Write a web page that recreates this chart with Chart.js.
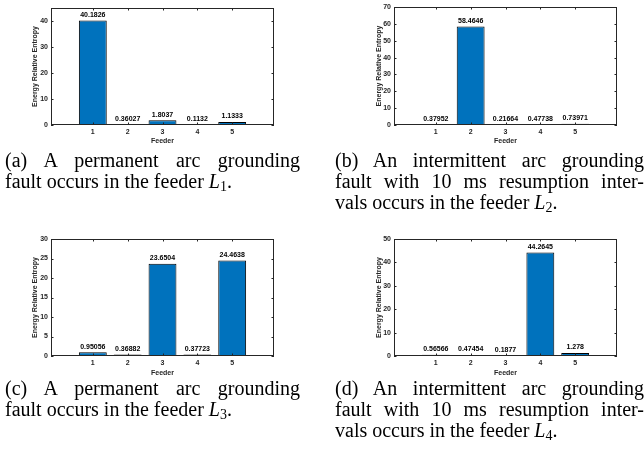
<!DOCTYPE html>
<html>
<head>
<meta charset="utf-8">
<script src="https://cdn.jsdelivr.net/npm/chart.js@4.4.0/dist/chart.umd.min.js"></script>
<style>
  body { margin: 0; background: #fff; width: 644px; height: 451px; overflow: hidden; position: relative; }
  .panel { position: absolute; }
  .cap { position: absolute; font-family: "Liberation Serif", "Times New Roman", serif; font-size: 20px; line-height: 21px; color: #000; }
  .cap div { text-align: justify; text-align-last: justify; white-space: nowrap; }
  .cap div.last { text-align-last: left; }
  .cap sub { font-size: 70%; vertical-align: -3px; line-height: 0; }
</style>
</head>
<body>
<div class="panel" id="pa" style="left:0;top:0;width:322px;height:150px"><canvas id="chartA"></canvas></div>
<div class="panel" id="pb" style="left:322px;top:0;width:322px;height:150px"><canvas id="chartB"></canvas></div>
<div class="panel" id="pc" style="left:0;top:225px;width:322px;height:155px"><canvas id="chartC"></canvas></div>
<div class="panel" id="pd" style="left:322px;top:225px;width:322px;height:155px"><canvas id="chartD"></canvas></div>

<div class="cap" style="left:5px;top:150px;width:295px">
  <div>(a) A permanent arc grounding</div>
  <div class="last">fault occurs in the feeder <i>L</i><sub>1</sub>.</div>
</div>
<div class="cap" style="left:335px;top:150px;width:309px">
  <div>(b) An intermittent arc grounding</div>
  <div>fault with 10 ms resumption inter-</div>
  <div class="last">vals occurs in the feeder <i>L</i><sub>2</sub>.</div>
</div>
<div class="cap" style="left:5px;top:378px;width:295px">
  <div>(c) A permanent arc grounding</div>
  <div class="last">fault occurs in the feeder <i>L</i><sub>3</sub>.</div>
</div>
<div class="cap" style="left:335px;top:378px;width:309px">
  <div>(d) An intermittent arc grounding</div>
  <div>fault with 10 ms resumption inter-</div>
  <div class="last">vals occurs in the feeder <i>L</i><sub>4</sub>.</div>
</div>

<script>
const feeders = [1, 2, 3, 4, 5];
const entropyA = [40.1826, 0.36027, 1.8037, 0.1132, 1.1333];
const entropyB = [0.37952, 58.4646, 0.21664, 0.47738, 0.73971];
const entropyC = [0.95056, 0.36882, 23.6504, 0.37723, 24.4638];
const entropyD = [0.56566, 0.47454, 0.1877, 44.2645, 1.278];
const yTicksA = [0, 10, 20, 30, 40];
const yTicksB = [0, 10, 20, 30, 40, 50, 60, 70];
const yTicksC = [0, 5, 10, 15, 20, 25, 30];
const yTicksD = [0, 10, 20, 30, 40, 50];
const yMaxA = 45, yMaxB = 70, yMaxC = 30, yMaxD = 50;

const axisColor = '#262626';
const chartFont = '"Liberation Sans", Arial, sans-serif';

// box, inward ticks and value labels like the matlab figure
const matlabBox = {
    id: 'matlabBox',
    afterDatasetsDraw(chart) {
        const { ctx, chartArea: a, scales: { x, y } } = chart;
        const t = 2.5;
        ctx.save();
        ctx.strokeStyle = axisColor;
        ctx.lineWidth = 1;
        ctx.strokeRect(Math.round(a.left) + 0.5, Math.round(a.top) + 0.5,
            Math.round(a.width) - 1, Math.round(a.height) - 1);
        ctx.beginPath();
        y.ticks.forEach(tk => {
            const py = Math.round(y.getPixelForValue(tk.value)) + 0.5;
            ctx.moveTo(a.left, py); ctx.lineTo(a.left + t, py);
            ctx.moveTo(a.right, py); ctx.lineTo(a.right - t, py);
        });
        x.ticks.forEach(tk => {
            const px = Math.round(x.getPixelForValue(tk.value)) + 0.5;
            ctx.moveTo(px, a.bottom); ctx.lineTo(px, a.bottom - t);
            ctx.moveTo(px, a.top); ctx.lineTo(px, a.top + t);
        });
        ctx.stroke();

        const meta = chart.getDatasetMeta(0);
        const values = chart.data.datasets[0].data;
        ctx.font = 'bold 7px ' + chartFont;
        ctx.fillStyle = '#000';
        ctx.textAlign = 'center';
        ctx.textBaseline = 'bottom';
        meta.data.forEach((bar, i) => {
            ctx.fillText(String(values[i].y), bar.x, bar.y - 2);
        });
        ctx.restore();
    }
};

function makeChart(id, values, yTicks, yMax, g) {
    const ctx = document.getElementById(id).getContext('2d');
    return new Chart(ctx, {
        type: 'bar',
        data: {
            datasets: [{
                data: feeders.map((f, i) => ({ x: f, y: values[i] })),
                backgroundColor: '#0072BD',
                borderColor: '#000',
                borderWidth: 1,
                categoryPercentage: 1,
                barPercentage: 0.8
            }]
        },
        options: {
            responsive: true,
            maintainAspectRatio: false,
            animation: false,
            layout: { padding: { left: g.padL, right: g.padR, top: g.padT, bottom: g.padB } },
            plugins: { legend: { display: false }, tooltip: { enabled: false } },
            scales: {
                x: {
                    type: 'linear',
                    offset: false,
                    min: -0.2,
                    max: 6.2,
                    grid: { display: false, drawTicks: false },
                    border: { display: false },
                    afterBuildTicks: scale => { scale.ticks = feeders.map(v => ({ value: v })); },
                    afterFit: scale => { scale.height = g.xH; scale.paddingLeft = 0; scale.paddingRight = 0; },
                    ticks: {
                        padding: 3,
                        autoSkip: false,
                        maxRotation: 0,
                        color: axisColor,
                        font: { family: chartFont, size: 7, weight: 'bold' }
                    },
                    title: {
                        display: true,
                        text: 'Feeder',
                        padding: 0,
                        color: axisColor,
                        font: { family: chartFont, size: 7, weight: 'bold' }
                    }
                },
                y: {
                    min: 0,
                    max: yMax,
                    grid: { display: false, drawTicks: false },
                    border: { display: false },
                    afterBuildTicks: scale => { scale.ticks = yTicks.map(v => ({ value: v })); },
                    afterFit: scale => { scale.width = g.yW; scale.paddingTop = 0; scale.paddingBottom = 0; },
                    ticks: {
                        padding: 3,
                        autoSkip: false,
                        color: axisColor,
                        font: { family: chartFont, size: 7, weight: 'bold' }
                    },
                    title: {
                        display: true,
                        text: 'Energy Relative Entropy',
                        padding: 0,
                        color: axisColor,
                        font: { family: chartFont, size: 7, weight: 'bold' }
                    }
                }
            }
        },
        plugins: [matlabBox]
    });
}

const leftGeo = { padL: 31, yW: 20, padR: 48 };
const rightGeo = { padL: 53, yW: 19, padR: 27 };

makeChart('chartA', entropyA, yTicksA, yMaxA, { ...leftGeo, padT: 8, padB: 5, xH: 20 });
makeChart('chartB', entropyB, yTicksB, yMaxB, { ...rightGeo, padT: 7, padB: 5, xH: 20 });
makeChart('chartC', entropyC, yTicksC, yMaxC, { ...leftGeo, padT: 14, padB: 3, xH: 21 });
makeChart('chartD', entropyD, yTicksD, yMaxD, { ...rightGeo, padT: 14, padB: 3, xH: 21 });
</script>
</body>
</html>
